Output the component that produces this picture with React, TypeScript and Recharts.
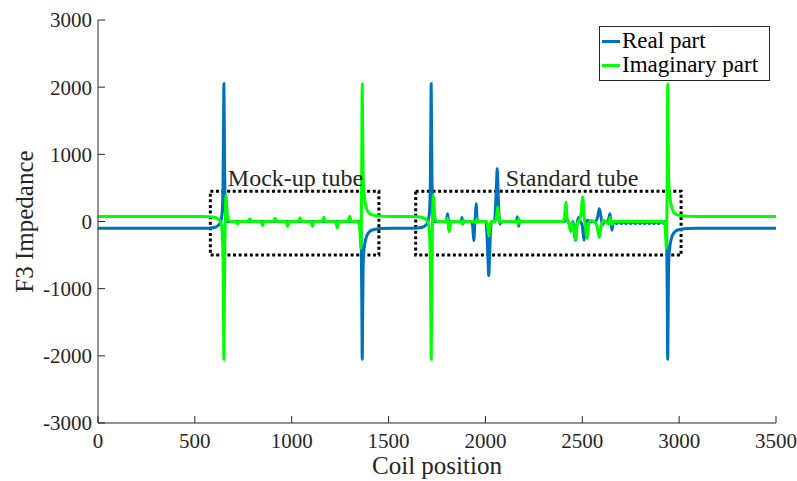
import React from 'react';
import { LineChart, Line, XAxis, YAxis, ReferenceArea, ReferenceDot, Legend } from 'recharts';

const FONT = 'Liberation Serif';
const AXIS_COLOR = '#262626';

const xTicks = [0, 500, 1000, 1500, 2000, 2500, 3000, 3500];
const yTicks = [-3000, -2000, -1000, 0, 1000, 2000, 3000];

const seriesNames = ['Real part', 'Imaginary part'];
const seriesColors = ['#0072BD', '#00FF00'];

const realPart: [number, number][] = [
  [0, -100], [540, -100], [580, -97], [605, -85], [620, -60], [630, -25], [637, 40], [642, 180],
  [646, 700], [648, 1400], [650, 2050], [652, 1400], [654, 700], [657, 150], [661, 30], [668, 0],
  [1345, 0], [1352, -15], [1356, -60], [1359, -300], [1362, -1300], [1364, -2050], [1366, -1500],
  [1368, -800], [1370, -550], [1374, -400], [1380, -290], [1388, -210], [1400, -155], [1420, -122],
  [1460, -105], [1520, -100],
  [1610, -100], [1650, -97], [1675, -85], [1690, -60], [1700, -25], [1707, 40], [1712, 180],
  [1716, 700], [1718, 1400], [1720, 2050], [1722, 1400], [1724, 700], [1727, 150], [1731, 30], [1738, 0],
  [1796, 0], [1801, 60], [1805, 115], [1809, 0], [1813, -135], [1818, -20], [1824, 0],
  [1874, 0], [1879, 60], [1884, -30], [1889, 0],
  [1930, 0], [1935, -100], [1940, -285], [1945, -40], [1948, 80], [1952, 265], [1957, 40], [1963, 0],
  [2002, 0], [2008, -200], [2013, -550], [2017, -805], [2021, -550], [2026, -150], [2032, 0],
  [2047, 0], [2052, 200], [2057, 550], [2061, 785], [2065, 500], [2070, 100], [2075, -40], [2082, 0],
  [2160, 0], [2165, 70], [2171, -70], [2177, 0],
  [2405, 0], [2418, 30], [2430, -20], [2442, -70], [2452, 0], [2458, -150], [2465, -280], [2472, -60],
  [2480, 60], [2490, 0], [2500, -60], [2509, -280], [2517, -60], [2525, 20], [2540, 0],
  [2570, 0], [2580, 80], [2588, 190], [2596, 80], [2604, -50], [2614, 0],
  [2630, 0], [2637, 50], [2643, 115], [2648, 0], [2653, -130], [2659, -30], [2666, 0],
  [2678, -30], [2690, 5], [2702, -30], [2714, 5], [2726, -30], [2738, 5], [2750, -30], [2762, 5],
  [2774, -30], [2786, 5], [2798, -30], [2810, 5], [2822, -30], [2834, 5], [2846, -30], [2858, 5],
  [2870, -30], [2882, 5], [2894, -30], [2906, 5], [2918, -25], [2925, 0],
  [2929, -15], [2933, -60], [2936, -300], [2939, -1300], [2941, -2050], [2943, -1500], [2945, -800],
  [2947, -550], [2951, -400], [2957, -290], [2965, -210], [2977, -155], [2997, -122], [3037, -105],
  [3097, -100], [3500, -100],
];

const imagPart: [number, number][] = [
  [0, 75], [540, 75], [580, 72], [605, 60], [620, 40], [630, 10], [637, -50], [642, -200],
  [646, -700], [648, -1400], [650, -2050], [652, -1300], [655, -300], [658, 200], [661, 390],
  [664, 260], [668, 80], [675, 15], [685, 0],
  [712, 0], [720, -35], [728, 0], [776, 0], [784, 40], [792, 0], [841, 0], [849, -60], [857, 0],
  [906, 0], [914, 50], [922, 0], [970, 0], [978, -70], [986, 0], [1035, 0], [1043, 55], [1051, 0],
  [1099, 0], [1107, -70], [1115, 0], [1158, 0], [1166, 65], [1174, 0], [1227, 0], [1235, -95], [1243, 0],
  [1291, 0], [1299, 80], [1307, 0],
  [1340, 0], [1348, -40], [1353, -180], [1357, -400], [1359, -150], [1361, 600], [1363, 1700],
  [1364, 2050], [1366, 1500], [1368, 800], [1370, 550], [1374, 400], [1380, 270], [1388, 180],
  [1400, 125], [1420, 95], [1460, 80], [1520, 75],
  [1610, 75], [1650, 72], [1675, 60], [1690, 40], [1700, 10], [1707, -50], [1712, -200], [1716, -700],
  [1718, -1400], [1720, -2050], [1722, -1300], [1725, -300], [1728, 200], [1731, 390], [1734, 260],
  [1738, 80], [1745, 15], [1755, 0],
  [1798, 0], [1803, 50], [1808, -40], [1813, -150], [1818, -30], [1824, 0],
  [1875, 0], [1881, -40], [1887, 20], [1892, 0],
  [1945, 0], [1951, -20], [1957, 40], [1963, 0],
  [2006, 0], [2012, -80], [2018, -215], [2024, -60], [2031, 0],
  [2052, 0], [2058, 80], [2064, 215], [2070, 40], [2076, -10], [2082, 0],
  [2163, 0], [2168, -40], [2173, 40], [2178, 0],
  [2400, 0], [2408, 60], [2415, 285], [2422, 40], [2430, -20], [2440, -150], [2448, -20], [2456, -100],
  [2465, -275], [2474, -30], [2485, 20], [2494, 120], [2502, 365], [2510, 60], [2517, -100], [2525, -255],
  [2533, -40], [2545, 15], [2560, 0], [2575, -60], [2588, -235], [2598, -60], [2608, 20], [2622, 0],
  [2636, -40], [2644, 60], [2652, -50], [2660, 0],
  [2917, 0], [2925, -40], [2930, -180], [2934, -400], [2936, -150], [2938, 600], [2940, 1700],
  [2941, 2050], [2943, 1500], [2945, 800], [2947, 550], [2951, 400], [2957, 270], [2965, 180],
  [2977, 125], [2997, 95], [3037, 80], [3097, 75], [3500, 75],
];

const boxX1 = [580, 1640];
const boxX2 = [1450, 3010];
const boxY1 = [-500, -500];
const boxY2 = [450, 450];

const tubeLabels = ['Mock-up tube', 'Standard tube'];
const tubeLabelX = [665, 2100];
const tubeLabelY = [650, 650];

const realData = realPart.map(([x, y]) => ({ x, y }));
const imagData = imagPart.map(([x, y]) => ({ x, y }));

const LegendBox = () => (
  <div
    style={{
      border: `1px solid ${AXIS_COLOR}`,
      background: '#fff',
      padding: '2px 4px 3px 2px',
      fontFamily: FONT,
      fontSize: 23,
      lineHeight: '24px',
      color: '#000',
      boxSizing: 'border-box',
      width: 171,
    }}
  >
    {seriesNames.map((n, i) => (
      <div key={n} style={{ display: 'flex', alignItems: 'center', whiteSpace: 'nowrap' }}>
        <span style={{ display: 'inline-block', width: 18, height: 3, background: seriesColors[i], marginRight: 2 }} />
        <span>{n}</span>
      </div>
    ))}
  </div>
);

export default function App() {
  return (
    <div style={{ position: 'absolute', left: 0, top: 0, width: 797, height: 481, background: '#fff', fontFamily: FONT }}>
      <style>{`.recharts-wrapper, .recharts-wrapper text, .recharts-legend-wrapper { font-family: 'Liberation Serif' !important; }`}</style>
      <LineChart width={797} height={481} margin={{ top: 20, right: 21, bottom: 0, left: 0 }}>
        <XAxis
          xAxisId="b"
          type="number"
          dataKey="x"
          domain={[0, 3500]}
          ticks={xTicks}
          interval={0}
          allowDataOverflow
          height={58}
          tickSize={-7}
          tickMargin={17}
          stroke={AXIS_COLOR}
          tick={{ fill: AXIS_COLOR, fontSize: 21, fontFamily: FONT }}
          label={{
            content: (p: any) => {
              const vb = p.viewBox;
              return (
                <text x={vb.x + vb.width / 2} y={vb.y + 51} textAnchor="middle" fill={AXIS_COLOR} fontSize={25} fontFamily={FONT}>
                  Coil position
                </text>
              );
            },
          }}
        />
        <XAxis
          xAxisId="t"
          orientation="top"
          type="number"
          dataKey="x"
          domain={[0, 3500]}
          ticks={xTicks}
          interval={0}
          height={0}
          tickSize={-7}
          tick={false}
          stroke={AXIS_COLOR}
        />
        <YAxis
          yAxisId="l"
          type="number"
          domain={[-3000, 3000]}
          ticks={yTicks}
          interval={0}
          allowDataOverflow
          width={98}
          tickSize={-7}
          tickMargin={13}
          stroke={AXIS_COLOR}
          tick={{ fill: AXIS_COLOR, fontSize: 21, fontFamily: FONT }}
          label={{
            content: (p: any) => {
              const vb = p.viewBox;
              const cx = vb.x + 24;
              const cy = vb.y + vb.height / 2;
              return (
                <text
                  x={cx}
                  y={cy}
                  transform={`rotate(-90 ${cx} ${cy})`}
                  textAnchor="middle"
                  dominantBaseline="central"
                  fill={AXIS_COLOR}
                  fontSize={25}
                  fontFamily={FONT}
                >
                  F3 Impedance
                </text>
              );
            },
          }}
        />
        <YAxis
          yAxisId="r"
          orientation="right"
          type="number"
          domain={[-3000, 3000]}
          ticks={yTicks}
          interval={0}
          width={0}
          tickSize={-7}
          tick={false}
          stroke={AXIS_COLOR}
        />
        <Line
          xAxisId="b"
          yAxisId="l"
          data={realData}
          dataKey="y"
          name={seriesNames[0]}
          type="monotone"
          stroke={seriesColors[0]}
          strokeWidth={3}
          dot={false}
          activeDot={false}
          isAnimationActive={false}
        />
        <Line
          xAxisId="b"
          yAxisId="l"
          data={imagData}
          dataKey="y"
          name={seriesNames[1]}
          type="monotone"
          stroke={seriesColors[1]}
          strokeWidth={3}
          dot={false}
          activeDot={false}
          isAnimationActive={false}
        />
        {boxX1.map((x1, i) => (
          <ReferenceArea
            key={`box${i}`}
            xAxisId="b"
            yAxisId="l"
            x1={x1}
            x2={boxX2[i]}
            y1={boxY1[i]}
            y2={boxY2[i]}
            fill="none"
            fillOpacity={0}
            stroke="#000"
            strokeWidth={3}
            strokeDasharray="3 2.6"
            ifOverflow="visible"
          />
        ))}
        {tubeLabels.map((t, i) => (
          <ReferenceDot
            key={t}
            xAxisId="b"
            yAxisId="l"
            x={tubeLabelX[i]}
            y={tubeLabelY[i]}
            r={1}
            fill="none"
            stroke="none"
            ifOverflow="visible"
            label={{ value: t, position: 'right', offset: 0, fill: AXIS_COLOR, fontSize: 24, fontFamily: FONT }}
          />
        ))}
        <Legend
          layout="vertical"
          align="center"
          verticalAlign="middle"
          wrapperStyle={{ left: 599, top: 26, width: 171, height: 55 }}
          content={() => <LegendBox />}
        />
      </LineChart>
    </div>
  );
}
